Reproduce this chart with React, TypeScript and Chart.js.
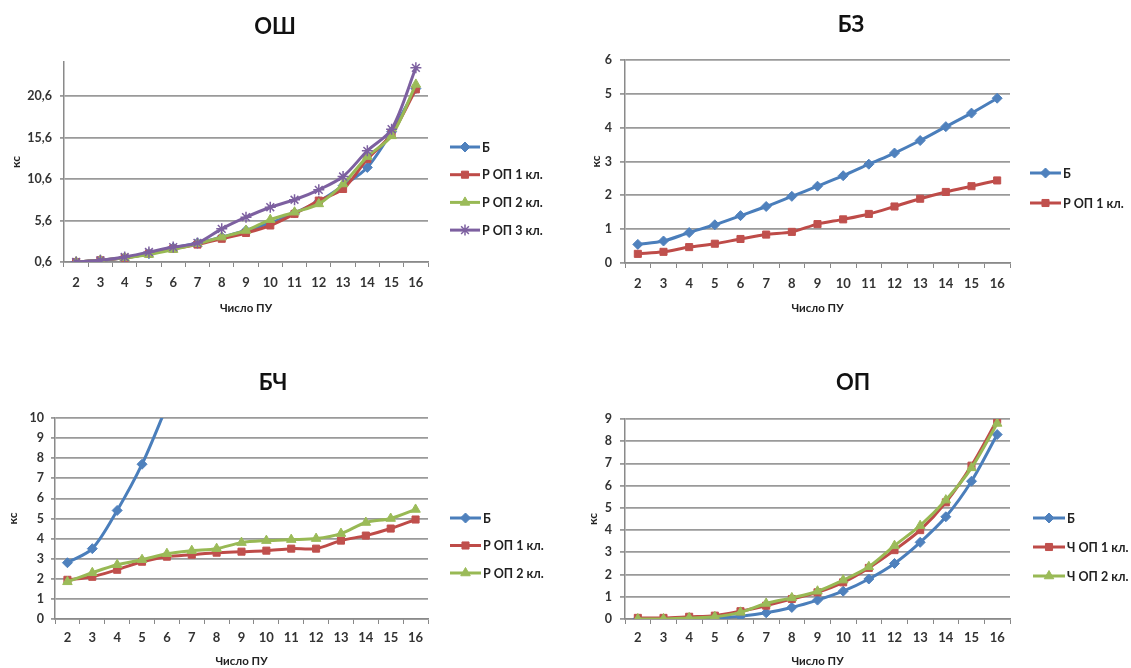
import React, { useEffect, useRef } from "react";
import { Chart, registerables } from "chart.js";
import { drawPoint } from "chart.js/helpers";

Chart.register(...registerables);

// ---------- data ----------
const categories = ["2", "3", "4", "5", "6", "7", "8", "9", "10", "11", "12", "13", "14", "15", "16"];

// ОШ
const oshB = [0.6, 0.8, 1.1, 1.6, 2.3, 2.9, 3.6, 4.4, 5.3, 6.5, 7.9, 9.8, 12.0, 16.3, 21.5];
const oshR1 = [0.6, 0.8, 1.1, 1.6, 2.2, 2.7, 3.4, 4.1, 5.0, 6.4, 8.0, 9.4, 13.0, 16.0, 21.4];
const oshR2 = [0.6, 0.8, 1.1, 1.5, 2.1, 2.8, 3.6, 4.4, 5.7, 6.6, 7.6, 10.0, 13.3, 15.8, 22.0];
const oshR3 = [0.6, 0.8, 1.2, 1.8, 2.4, 2.9, 4.6, 6.0, 7.2, 8.1, 9.3, 10.9, 14.0, 16.6, 24.0];
const oshTicks = [0.6, 5.6, 10.6, 15.6, 20.6];

// БЗ
const bzB = [0.55, 0.65, 0.9, 1.13, 1.4, 1.67, 1.97, 2.27, 2.58, 2.92, 3.25, 3.62, 4.03, 4.43, 4.87];
const bzR1 = [0.27, 0.33, 0.47, 0.57, 0.71, 0.84, 0.92, 1.15, 1.29, 1.45, 1.67, 1.9, 2.1, 2.27, 2.44];
const bzTicks = [0, 1, 2, 3, 4, 5, 6];

// БЧ
const bchB = [2.8, 3.5, 5.4, 7.7, 10.6, null, null, null, null, null, null, null, null, null, null];
const bchR1 = [1.95, 2.1, 2.45, 2.85, 3.1, 3.2, 3.3, 3.35, 3.4, 3.5, 3.5, 3.9, 4.15, 4.5, 4.95];
const bchR2 = [1.85, 2.3, 2.7, 2.95, 3.25, 3.4, 3.5, 3.8, 3.9, 3.95, 4.0, 4.25, 4.8, 5.0, 5.45];
const bchTicks = [0, 1, 2, 3, 4, 5, 6, 7, 8, 9, 10];

// ОП
const opB = [0, 0, 0.02, 0.05, 0.12, 0.28, 0.52, 0.85, 1.25, 1.8, 2.5, 3.45, 4.6, 6.2, 8.3];
const opR1 = [0.05, 0.05, 0.1, 0.15, 0.35, 0.6, 0.9, 1.2, 1.65, 2.3, 3.1, 4.0, 5.25, 6.9, 8.95];
const opR2 = [0, 0, 0.05, 0.1, 0.3, 0.7, 0.95, 1.25, 1.75, 2.35, 3.3, 4.2, 5.35, 6.8, 8.8];
const opTicks = [0, 1, 2, 3, 4, 5, 6, 7, 8, 9];

// ---------- styles ----------
const FONT = "Lato, 'Open Sans', sans-serif";
const BLUE = { line: "#4A7EBB", fill: "#4F81BD", style: "rectRot", r: 5 };
const RED = { line: "#BE4B48", fill: "#C0504D", style: "rect", r: 5 };
const GREEN = { line: "#98B954", fill: "#9BBB59", style: "triangle", r: 5.5 };
const PURPLE = { line: "#7D60A0", fill: "#8064A2", style: "star", r: 5.5 };

function ds(label: string, data: (number | null)[], s: any, idx: number) {
  return {
    label,
    data,
    borderColor: s.line,
    backgroundColor: s.fill,
    pointBackgroundColor: s.fill,
    pointBorderColor: s.style === "star" ? s.line : s.fill,
    pointStyle: s.style,
    pointRadius: s.r,
    pointBorderWidth: s.style === "star" ? 1.5 : 1,
    borderWidth: 3,
    tension: 0.3,
    order: 10 - idx,
  };
}

const decor = {
  id: "decor",
  afterDraw(chart: any, _args: any, o: any) {
    const ctx = chart.ctx;
    ctx.save();
    ctx.fillStyle = "#111";
    ctx.font = `bold 22px ${FONT}`;
    ctx.textAlign = "center";
    ctx.textBaseline = "middle";
    ctx.fillText(o.title, o.titleX, o.titleY);
    ctx.textAlign = "left";
    ctx.font = `bold 12.5px ${FONT}`;
    chart.data.datasets.forEach((d: any, i: number) => {
      const y = o.legendY + i * o.legendGap;
      const x0 = o.legendX;
      ctx.strokeStyle = d.borderColor;
      ctx.lineWidth = 3;
      ctx.beginPath();
      ctx.moveTo(x0, y);
      ctx.lineTo(x0 + o.lineLen, y);
      ctx.stroke();
      ctx.fillStyle = d.pointBackgroundColor;
      ctx.strokeStyle = d.pointBorderColor;
      ctx.lineWidth = d.pointBorderWidth;
      drawPoint(ctx, { pointStyle: d.pointStyle, radius: d.pointRadius, borderWidth: d.pointBorderWidth, rotation: 0 }, x0 + o.lineLen / 2, y);
      ctx.fillStyle = "#222";
      ctx.fillText(d.label, x0 + o.lineLen + 2, y + 0.5);
    });
    ctx.restore();
  },
};

type Spec = {
  left: number; top: number; width: number; height: number;
  datasets: any[];
  yMin: number; yMax: number; yTicks: number[]; comma?: boolean;
  pad: { left: number; top: number; right: number; bottom: number };
  yWidth: number; xHeight: number; yTitlePad: number;
  yTickLen: number; yTickPad: number; xTickPad: number; xTitlePad: number;
  title: string; titleX: number; titleY: number;
  legendX: number; legendY: number; legendGap: number; lineLen: number;
};

function LineChart({ spec }: { spec: Spec }) {
  const ref = useRef<HTMLCanvasElement>(null);
  useEffect(() => {
    const chart = new Chart(ref.current as HTMLCanvasElement, {
      type: "line",
      data: { labels: categories, datasets: spec.datasets },
      plugins: [decor],
      options: {
        animation: false,
        responsive: false,
        layout: { padding: spec.pad },
        plugins: {
          legend: { display: false },
          title: { display: false },
          tooltip: { enabled: false },
          decor: {
            title: spec.title, titleX: spec.titleX, titleY: spec.titleY,
            legendX: spec.legendX, legendY: spec.legendY, legendGap: spec.legendGap, lineLen: spec.lineLen,
          },
        } as any,
        scales: {
          x: {
            type: "category",
            offset: true,
            grid: { offset: true, drawOnChartArea: false, drawTicks: true, tickLength: 5, color: "#888", lineWidth: 1 },
            border: { color: "#8a8a8a", width: 1.5 },
            ticks: { color: "#333", font: { family: FONT, size: 13, weight: "bold" }, padding: spec.xTickPad, maxRotation: 0, autoSkip: false },
            title: { display: true, text: "Число ПУ", color: "#222", font: { family: FONT, size: 11.5, weight: "bold" }, padding: { top: spec.xTitlePad, bottom: 0 } },
            afterFit: (s: any) => { s.height = spec.xHeight; },
          },
          y: {
            min: spec.yMin,
            max: spec.yMax,
            afterBuildTicks: (s: any) => { s.ticks = spec.yTicks.map((v) => ({ value: v })); },
            grid: { color: "#9a9a9a", lineWidth: 1.8, tickLength: spec.yTickLen, drawTicks: true },
            border: { color: "#8a8a8a", width: 1.5 },
            ticks: {
              color: "#333",
              font: { family: FONT, size: 12.5, weight: "bold" },
              padding: spec.yTickPad,
              callback: (v: any) => (spec.comma ? Number(v).toFixed(1).replace(".", ",") : String(v)),
            },
            title: { display: true, text: "кс", color: "#222", font: { family: FONT, size: 12, weight: "bold" }, padding: { top: spec.yTitlePad, bottom: 0 } },
            afterFit: (s: any) => { s.width = spec.yWidth; },
          },
        },
      } as any,
    });
    return () => chart.destroy();
  }, []);
  return (
    <canvas
      ref={ref}
      width={spec.width}
      height={spec.height}
      style={{ position: "absolute", left: spec.left, top: spec.top, width: spec.width, height: spec.height }}
    />
  );
}

const specs: Spec[] = [
  {
    left: 0, top: 0, width: 560, height: 330,
    datasets: [ds("Б", oshB, BLUE, 0), ds("Р ОП 1 кл.", oshR1, RED, 1), ds("Р ОП 2 кл.", oshR2, GREEN, 2), ds("Р ОП 3 кл.", oshR3, PURPLE, 3)],
    yMin: 0.6, yMax: 24.7, yTicks: oshTicks, comma: true,
    pad: { left: 0, top: 62, right: 132, bottom: 15 },
    yWidth: 64, xHeight: 53, yTitlePad: 9,
    yTickLen: 4, yTickPad: 8, xTickPad: 8, xTitlePad: 4,
    title: "ОШ", titleX: 275, titleY: 27,
    legendX: 450, legendY: 147, legendGap: 27.7, lineLen: 30,
  },
  {
    left: 560, top: 0, width: 571, height: 330,
    datasets: [ds("Б", bzB, BLUE, 0), ds("Р ОП 1 кл.", bzR1, RED, 1)],
    yMin: 0, yMax: 6, yTicks: bzTicks,
    pad: { left: 0, top: 60, right: 121, bottom: 15 },
    yWidth: 65, xHeight: 52, yTitlePad: 29,
    yTickLen: 5, yTickPad: 8, xTickPad: 8, xTitlePad: 4,
    title: "БЗ", titleX: 291, titleY: 25,
    legendX: 470, legendY: 173, legendGap: 30, lineLen: 31,
  },
  {
    left: 0, top: 330, width: 560, height: 338,
    datasets: [ds("Б", bchB, BLUE, 0), ds("Р ОП 1 кл.", bchR1, RED, 1), ds("Р ОП 2 кл.", bchR2, GREEN, 2)],
    yMin: 0, yMax: 10, yTicks: bchTicks,
    pad: { left: 0, top: 88, right: 132, bottom: 0 },
    yWidth: 55, xHeight: 49, yTitlePad: 6,
    yTickLen: 4, yTickPad: 7, xTickPad: 6, xTitlePad: 0,
    title: "БЧ", titleX: 273, titleY: 53,
    legendX: 450, legendY: 188, legendGap: 27.5, lineLen: 31,
  },
  {
    left: 560, top: 330, width: 571, height: 338,
    datasets: [ds("Б", opB, BLUE, 0), ds("Ч ОП 1 кл.", opR1, RED, 1), ds("Ч ОП 2 кл.", opR2, GREEN, 2)],
    yMin: 0, yMax: 9, yTicks: opTicks,
    pad: { left: 0, top: 89, right: 121, bottom: 0 },
    yWidth: 65, xHeight: 49, yTitlePad: 26,
    yTickLen: 5, yTickPad: 8, xTickPad: 6, xTitlePad: 0,
    title: "ОП", titleX: 293, titleY: 53,
    legendX: 473, legendY: 188, legendGap: 29, lineLen: 32,
  },
];

export default function App() {
  return (
    <div style={{ position: "absolute", left: 0, top: 0, width: 1131, height: 668, background: "#fff", overflow: "hidden" }}>
      {specs.map((s, i) => (
        <LineChart key={i} spec={s} />
      ))}
    </div>
  );
}
